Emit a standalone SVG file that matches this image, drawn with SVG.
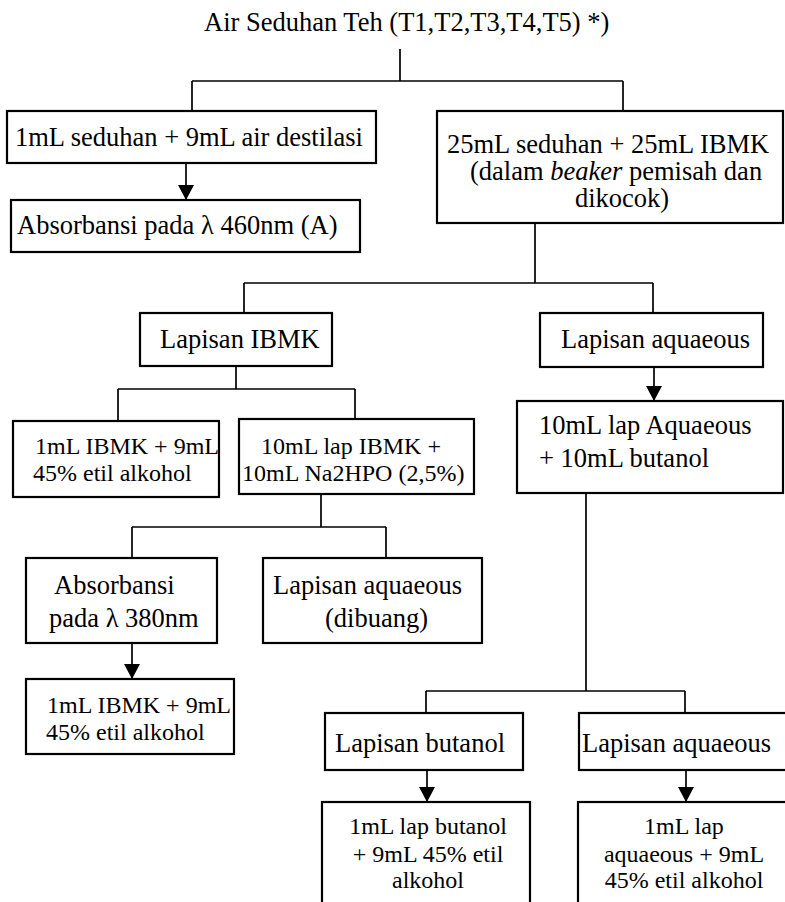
<svg xmlns="http://www.w3.org/2000/svg" width="785" height="902" viewBox="0 0 785 902">
<style>
  text { font-family: "Liberation Serif", "Times New Roman", serif; fill: #000; }
  .t { font-size: 26.5px; }
  .s { font-size: 24px; }
  .box { fill: #fff; stroke: #000; stroke-width: 2.2; }
  .con { fill: none; stroke: #000; stroke-width: 1.7; }
</style>
<defs>
  <marker id="ah" markerUnits="userSpaceOnUse" viewBox="0 0 15 16" refX="15" refY="8" markerWidth="15" markerHeight="16" orient="auto">
    <path d="M0,0 L15,8 L0,16 z" fill="#000"/>
  </marker>
</defs>
<rect width="785" height="902" fill="#fff"/>

<g id="connectors">
  <path class="con" d="M400,49 V81 M192,81 H623 M192,81 V111 M623,81 V111"/>
  <path class="con" d="M186,163 V200" marker-end="url(#ah)"/>
  <path class="con" d="M535,223 V283 M244,283 H653 M244,283 V313 M653,283 V313"/>
  <path class="con" d="M654,367 V401" marker-end="url(#ah)"/>
  <path class="con" d="M236,366 V389 M118,389 H355 M118,389 V421 M355,389 V421"/>
  <path class="con" d="M321,494 V527 M132,527 H386 M132,527 V558 M386,527 V558"/>
  <path class="con" d="M132,643 V679" marker-end="url(#ah)"/>
  <path class="con" d="M586,493 V691 M426,691 H685 M426,691 V713 M685,691 V713"/>
  <path class="con" d="M427,770 V802" marker-end="url(#ah)"/>
  <path class="con" d="M686,770 V802" marker-end="url(#ah)"/>
</g>

<g id="title">
  <text class="t" x="204" y="31">Air Seduhan Teh (T1,T2,T3,T4,T5) *)</text>
</g>

<g id="boxA">
  <rect class="box" x="7" y="111" width="369" height="52"/>
  <text class="t" x="15" y="146">1mL seduhan + 9mL air destilasi</text>
</g>

<g id="boxB">
  <rect class="box" x="11" y="200" width="349" height="52"/>
  <text class="t" x="17" y="234">Absorbansi pada λ 460nm (A)</text>
</g>

<g id="boxC">
  <rect class="box" x="437" y="111" width="346" height="112"/>
  <text class="t" x="447" y="153">25mL seduhan + 25mL IBMK</text>
  <text class="t" x="470" y="180">(dalam <tspan font-style="italic">beaker</tspan> pemisah dan</text>
  <text class="t" x="575" y="207">dikocok)</text>
</g>

<g id="boxD">
  <rect class="box" x="140" y="313" width="192" height="53"/>
  <text class="t" x="160" y="348">Lapisan IBMK</text>
</g>

<g id="boxE">
  <rect class="box" x="540" y="313" width="223" height="54"/>
  <text class="t" x="561" y="348">Lapisan aquaeous</text>
</g>

<g id="boxF">
  <rect class="box" x="13" y="421" width="206" height="76"/>
  <text class="s" x="35" y="454">1mL IBMK + 9mL</text>
  <text class="s" x="33" y="481">45% etil alkohol</text>
</g>

<g id="boxG">
  <rect class="box" x="239" y="419" width="235" height="75"/>
  <text class="s" x="261" y="454">10mL lap IBMK +</text>
  <text class="s" x="242" y="481">10mL Na2HPO (2,5%)</text>
</g>

<g id="boxH">
  <rect class="box" x="517" y="401" width="266" height="92"/>
  <text class="t" x="539" y="434">10mL lap Aquaeous</text>
  <text class="t" x="539" y="467">+ 10mL butanol</text>
</g>

<g id="boxI">
  <rect class="box" x="26" y="558" width="191" height="85"/>
  <text class="t" x="54" y="594">Absorbansi</text>
  <text class="t" x="49" y="627">pada λ 380nm</text>
</g>

<g id="boxJ">
  <rect class="box" x="263" y="558" width="219" height="85"/>
  <text class="t" x="273" y="594">Lapisan aquaeous</text>
  <text class="t" x="325" y="627">(dibuang)</text>
</g>

<g id="boxK">
  <rect class="box" x="26" y="679" width="208" height="75"/>
  <text class="s" x="47" y="713">1mL IBMK + 9mL</text>
  <text class="s" x="46" y="740">45% etil alkohol</text>
</g>

<g id="boxL">
  <rect class="box" x="325" y="713" width="198" height="57"/>
  <text class="t" x="335" y="752">Lapisan butanol</text>
</g>

<g id="boxM">
  <rect class="box" x="579" y="713" width="220" height="57"/>
  <text class="t" x="582" y="752">Lapisan aquaeous</text>
</g>

<g id="boxN">
  <rect class="box" x="322" y="802" width="208" height="110"/>
  <text class="s" x="428" y="834" text-anchor="middle">1mL lap butanol</text>
  <text class="s" x="428" y="862" text-anchor="middle">+ 9mL 45% etil</text>
  <text class="s" x="428" y="888" text-anchor="middle">alkohol</text>
</g>

<g id="boxO">
  <rect class="box" x="578" y="802" width="220" height="110"/>
  <text class="s" x="684" y="834" text-anchor="middle">1mL lap</text>
  <text class="s" x="684" y="862" text-anchor="middle">aquaeous + 9mL</text>
  <text class="s" x="684" y="888" text-anchor="middle">45% etil alkohol</text>
</g>
</svg>
